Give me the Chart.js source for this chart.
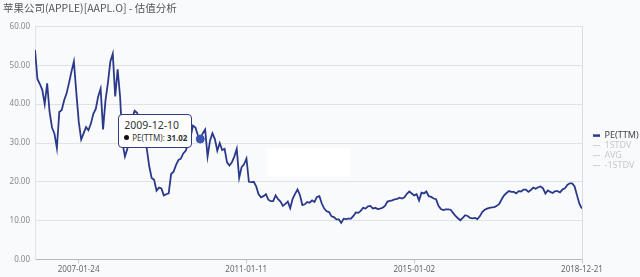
<!DOCTYPE html>
<html>
<head>
<meta charset="utf-8">
<title>苹果公司(APPLE)[AAPL.O] - 估值分析</title>
<script src="https://cdn.jsdelivr.net/npm/chart.js@4.4.1/dist/chart.umd.min.js"></script>
<style>
  html, body { margin: 0; padding: 0; background: #f9fafc; }
  #wrap { position: relative; width: 640px; height: 277px; background: #f9fafc; }
  #tip {
    position: absolute; display: none; background: #fff;
    border: 1px solid #2f3c7e; border-radius: 4px; padding: 3px 4px 3px 5px;
    font-family: 'Noto Sans', sans-serif; color: #333; white-space: nowrap; pointer-events: none;
  }
  #tip .t { font-size: 10.5px; line-height: 14px; }
  #tip .b { font-size: 8px; line-height: 12px; }
  #tip .dot { display: inline-block; width: 5px; height: 5px; border-radius: 50%; background: #111; margin-right: 3px; vertical-align: 1px; }
</style>
</head>
<body>
<div id="wrap">
  <canvas id="peChart" width="640" height="277"></canvas>
  <div id="tip"></div>
</div>
<script>
// 估值分析 - PE(TTM)

const chartTitle = '苹果公司(APPLE)[AAPL.O] - 估值分析';
const seriesNames = ['PE(TTM)', '1STDV', 'AVG', '-1STDV'];
const startDate = '2006-01-12';
const endDate = '2018-12-21';
const stepDays = 21;
const tickDates = ['2007-01-24', '2011-01-11', '2015-01-02', '2018-12-21'];
const yTicks = [0, 10, 20, 30, 40, 50, 60];
const tooltipDate = '2009-12-10';

// PE(TTM), one value every 3 weeks from startDate
const pe = [
  54, 46.5, 45.2, 43.7, 40, 45.4, 38, 34, 32.4, 28.7,
  38, 38.5, 41, 42.8, 45.5, 48.4, 51, 43, 35.5, 30.9,
  32.5, 34.1, 33.3, 35, 37.5, 38.8, 42, 44, 33.5, 41,
  45.5, 51, 53, 42, 49, 42, 30, 26.5, 28.5, 33,
  36.5, 38.3, 37.8, 36, 33.5, 31, 28.5, 24, 21, 20.5,
  17.7, 18.5, 18.3, 16.5, 16.8, 17, 22, 22.6, 24.3, 25.6,
  26, 27.3, 28, 29.8, 31.5, 34.5, 34, 32, 31.02, 32.5,
  33.5, 26.5, 30.6, 32.5, 31, 28, 30, 28.2, 28.5, 25,
  24.2, 25, 26.5, 28.5, 21, 23.8, 24.5, 26, 20, 19.9,
  20, 18.8, 16.8, 16, 16.3, 16.8, 15.4, 15, 15, 16.5,
  15.5, 14.9, 13.8, 14.3, 14.9, 13.2, 15.6, 16.9, 18, 16.6,
  14, 14.2, 14.8, 14.6, 15.2, 14.8, 16.1, 16.3, 14.4, 13.1,
  12.4, 12.2, 11.1, 10.9, 10.3, 10.3, 9.4, 10.5, 10.4, 10.5,
  10.5, 11.2, 12.1, 12, 12.5, 13.3, 13.1, 13.7, 13.8, 13.1,
  13.3, 13, 13.1, 13.3, 13.8, 14.9, 15.1, 15.2, 15.5, 15.6,
  15.9, 15.7, 16, 16.9, 17.5, 17, 16.5, 16.8, 15.2, 17.2,
  17, 17.5, 16.3, 16.1, 15.7, 15.5, 13.8, 13, 12.7, 12.9,
  12.9, 12.8, 12, 11.2, 10.6, 10.1, 10.7, 11.4, 11.2, 10.7,
  10.6, 10.7, 10.4, 11.1, 12.2, 12.8, 13.1, 13.3, 13.4, 13.5,
  13.8, 14.3, 15.5, 16.5, 17.1, 17.6, 17.4, 17.4, 17, 17.6,
  17.5, 18, 18, 17.4, 17.9, 18.5, 18.2, 18.6, 18.8, 18.3,
  17, 17.8, 17.4, 17.1, 17.6, 17.6, 17.3, 18, 18.3, 19.2,
  19.6, 19.6, 18.8, 16.5, 14.3, 13.1
];

// white patch over the plot (masked watermark)
const maskBox = { from: '2011-07-09', to: '2013-06-26', top: 28.7, bottom: 21.4 };

const DAY = 864e5;
const toMs = s => Date.parse(s);
const fmtDate = ms => new Date(ms).toISOString().slice(0, 10);
const points = pe.map((v, i) => ({ x: toMs(startDate) + i * stepDays * DAY, y: v }));
const activeIndex = points.findIndex(p => fmtDate(p.x) === tooltipDate);

Chart.defaults.font.family = "'Noto Sans', 'Noto Sans CJK SC', sans-serif";
Chart.defaults.color = '#777';

const tip = document.getElementById('tip');
function externalTip(ctx){
  const t = ctx.tooltip;
  if (!t || t.opacity === 0 || !t.dataPoints || !t.dataPoints.length){ tip.style.display = 'none'; return; }
  const dp = t.dataPoints[0];
  tip.innerHTML = '<div class="t">' + fmtDate(dp.parsed.x) + '</div>' +
    '<div class="b"><span class="dot"></span>' + dp.dataset.label + ': <b>' + dp.parsed.y.toFixed(2) + '</b></div>';
  tip.style.display = 'block';
  tip.style.left = (t.caretX - tip.offsetWidth - 8) + 'px';
  tip.style.top = (t.caretY - 25) + 'px';
}

const maskPlugin = {
  id: 'mask',
  beforeDatasetsDraw(chart){
    const {ctx, scales:{x, y}} = chart;
    const x0 = x.getPixelForValue(toMs(maskBox.from)), x1 = x.getPixelForValue(toMs(maskBox.to));
    const y0 = y.getPixelForValue(maskBox.top), y1 = y.getPixelForValue(maskBox.bottom);
    ctx.save(); ctx.fillStyle = '#ffffff'; ctx.fillRect(x0, y0, x1 - x0, y1 - y0); ctx.restore();
  }
};

const chart = new Chart(document.getElementById('peChart'), {
  type: 'line',
  data: {
    datasets: [
      { label: seriesNames[0], data: points, borderColor: '#2b398a', backgroundColor: '#2b398a', borderWidth: 1.8,
        pointRadius: 0, pointHoverRadius: 4, pointHoverBackgroundColor: '#3a55b0', pointHoverBorderColor: '#3a55b0', pointHoverBorderWidth: 1 },
      { label: seriesNames[1], data: [], hidden: true, borderColor: '#d0d0d0', borderWidth: 1 },
      { label: seriesNames[2], data: [], hidden: true, borderColor: '#d0d0d0', borderWidth: 1 },
      { label: seriesNames[3], data: [], hidden: true, borderColor: '#d0d0d0', borderWidth: 1 }
    ]
  },
  options: {
    responsive: false,
    animation: false,
    events: [],
    interaction: { mode: 'nearest', intersect: false, axis: 'x' },
    layout: { padding: { left: 3, right: 0, top: 2, bottom: 0 } },
    plugins: {
      title: { display: true, text: chartTitle, align: 'start', color: '#555',
        font: { family: "'Noto Sans CJK SC', sans-serif", size: 10.5, weight: 'normal' }, padding: { top: 0, bottom: 12 } },
      legend: {
        position: 'right',
        align: 'center',
        maxWidth: 48,
        title: { display: true, text: '', font: { size: 1 }, padding: { top: 21, bottom: 0 } },
        labels: {
          usePointStyle: true, pointStyle: 'line', pointStyleWidth: 7, boxHeight: 9,
          padding: 1, font: { size: 9 }, color: '#444',
          generateLabels(c){
            const items = Chart.defaults.plugins.legend.labels.generateLabels(c);
            items.forEach(it => {
              it.pointStyle = 'line';
              if (it.hidden){ it.hidden = false; it.fontColor = '#c8c8c8'; it.strokeStyle = '#d0d0d0'; it.lineWidth = 1; }
              else { it.fontColor = '#444'; it.lineWidth = 2.5; }
            });
            return items;
          }
        }
      },
      tooltip: { enabled: false, external: externalTip }
    },
    scales: {
      x: {
        type: 'linear',
        min: toMs(startDate),
        max: toMs(endDate),
        afterBuildTicks: s => { s.ticks = tickDates.map(d => ({ value: toMs(d) })); },
        ticks: { callback: v => fmtDate(v), font: { size: 8 }, color: '#666', padding: 2, maxRotation: 0, autoSkip: false },
        grid: { display: true, drawOnChartArea: false, drawTicks: true, tickLength: 4, color: '#c8c8c8' },
        border: { color: '#b8b8b8' }
      },
      y: {
        min: 0, max: 60,
        afterBuildTicks: s => { s.ticks = yTicks.map(v => ({ value: v })); },
        afterFit: s => { s.width = 32; },
        ticks: { callback: v => v.toFixed(2), font: { size: 8 }, color: '#888', padding: 5 },
        grid: { color: '#e2e2e2', drawTicks: false },
        border: { color: '#e2e2e2' }
      },
      y2: {
        position: 'right',
        afterFit: s => { s.width = 10; },
        ticks: { display: false },
        grid: { display: false },
        border: { color: '#dcdcdc' }
      }
    }
  },
  plugins: [maskPlugin]
});

if (activeIndex >= 0){
  const act = [{ datasetIndex: 0, index: activeIndex }];
  chart.setActiveElements(act);
  const el = chart.getDatasetMeta(0).data[activeIndex];
  chart.tooltip.setActiveElements(act, { x: el.x, y: el.y });
  chart.update();
}
</script>
</body>
</html>
